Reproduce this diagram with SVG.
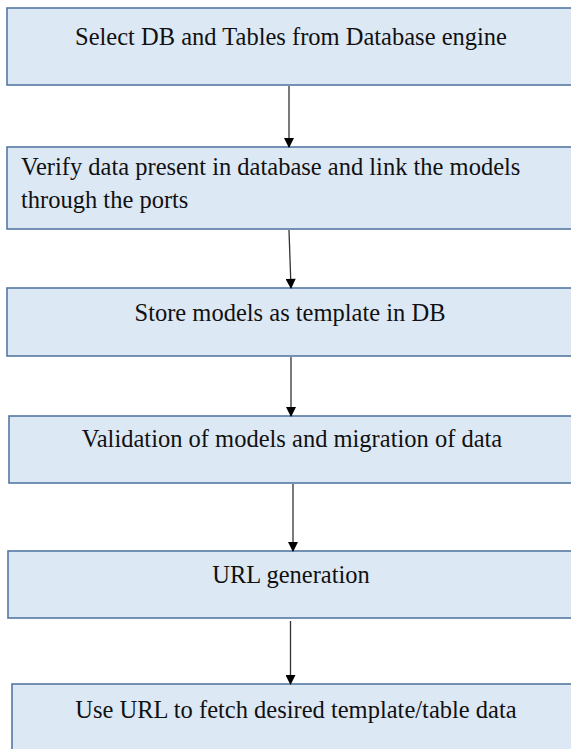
<svg xmlns="http://www.w3.org/2000/svg" width="571" height="749" viewBox="0 0 571 749">
<defs>
<marker id="ah" viewBox="0 0 10 11" refX="10" refY="5.5" markerWidth="11" markerHeight="10" markerUnits="userSpaceOnUse" orient="auto">
<path d="M0,0 L11,5.5 L0,11 z" fill="#000"/>
</marker>
</defs>
<style>
.box{fill:#dde8f5;stroke:#5478a3;stroke-width:1.6}
text{font-family:'Liberation Serif','Times New Roman',serif;font-size:24.5px;fill:#111}
.c{text-anchor:middle}
.ln{stroke:#333;stroke-width:1.3;fill:none;marker-end:url(#ah)}
</style>
<rect width="571" height="749" fill="#fff"/>
<g id="n1"><rect class="box" x="7" y="8" width="570" height="77"/><text class="c" x="291" y="45">Select DB and Tables from Database engine</text></g>
<g id="n2"><rect class="box" x="7" y="147" width="570" height="82"/><text x="21" y="175">Verify data present in database and link the models</text><text x="21" y="208">through the ports</text></g>
<g id="n3"><rect class="box" x="7" y="288" width="570" height="68"/><text class="c" x="290" y="321">Store models as template in DB</text></g>
<g id="n4"><rect class="box" x="9" y="416" width="570" height="67"/><text class="c" x="292" y="447">Validation of models and migration of data</text></g>
<g id="n5"><rect class="box" x="8" y="551" width="570" height="67"/><text class="c" x="291" y="583">URL generation</text></g>
<g id="n6"><rect class="box" x="12" y="684" width="570" height="80"/><text class="c" x="296" y="718">Use URL to fetch desired template/table data</text></g>
<g id="connectors">
<line class="ln" x1="289" y1="86" x2="289" y2="147"/>
<line class="ln" x1="289" y1="230" x2="291" y2="288"/>
<line class="ln" x1="291" y1="357" x2="291" y2="416"/>
<line class="ln" x1="293" y1="484" x2="293" y2="551"/>
<line class="ln" x1="290.5" y1="621" x2="290.5" y2="684"/>
</g>
</svg>
